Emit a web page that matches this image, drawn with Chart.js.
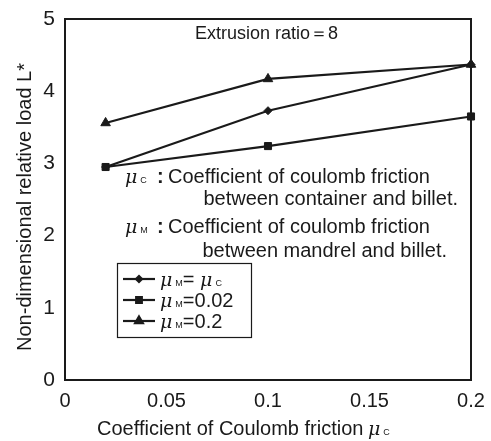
<!DOCTYPE html>
<html><head><meta charset="utf-8">
<script src="https://cdn.jsdelivr.net/npm/chart.js@4/dist/chart.umd.min.js"></script>
<style>html,body{margin:0;padding:0;background:#fff}#wrap{width:491px;height:441px}</style>
</head><body><div id="wrap"><canvas id="c" width="491" height="441"></canvas></div>
<script>
const xValues = [0.02, 0.1, 0.2];
const seriesEqual = [2.95, 3.73, 4.37];
const series002 = [2.95, 3.24, 3.65];
const series02 = [3.56, 4.17, 4.37];
const seriesNames = ['μM= μc', 'μM=0.02', 'μM=0.2'];
const xTicks = [0, 0.05, 0.1, 0.15, 0.2];
const yTicks = [0, 1, 2, 3, 4, 5];
const xTitle = 'Coefficient of Coulomb friction';
const yTitle = 'Non-dimensional relative load L*';
const FONT = '"Liberation Sans", Arial, sans-serif';
const INK = '#1a1a1a';

function pts(vals){ return xValues.map((x,i)=>({x, y: vals[i]})); }
const styles = ['rectRot','rect','triangle'];
const radii = [4,5,5.5];

// draw μ with subscript
function drawMu(ctx, x, y, sub, size){
  ctx.font = 'italic ' + size + 'px "DejaVu Serif", serif';
  ctx.fillText('μ', x, y);
  const w = ctx.measureText('μ').width;
  ctx.font = Math.round(size*0.45) + 'px ' + FONT;
  ctx.fillText(sub, x + w + 3, y);
  return w + 3 + ctx.measureText(sub).width;
}

const annot = {
  id: 'annot',
  afterDraw(chart){
    const ctx = chart.ctx, a = chart.chartArea;
    ctx.save();
    ctx.fillStyle = INK; ctx.textBaseline = 'alphabetic'; ctx.textAlign = 'left';
    // frame
    ctx.strokeStyle = INK; ctx.lineWidth = 2;
    ctx.strokeRect(a.left, a.top, a.right - a.left, a.bottom - a.top);
    ctx.font = '18px ' + FONT;
    ctx.fillText('Extrusion ratio＝8', 195, 39);
    // definitions
    [[183, 'C', 205, 'between container and billet.', 458],
     [233, 'M', 257, 'between mandrel and billet.', 447]].forEach(r => {
      ctx.textAlign = 'left';
      drawMu(ctx, 125, r[0], r[1], 19);
      ctx.font = 'bold 20px ' + FONT;
      ctx.fillText(':', 157, r[0]);
      ctx.font = '20px ' + FONT;
      ctx.fillText('Coefficient of coulomb friction', 168, r[0]);
      ctx.textAlign = 'right';
      ctx.fillText(r[3], r[4], r[2]);
    });
    // x axis title
    ctx.textAlign = 'left';
    ctx.font = '20px ' + FONT;
    ctx.fillText(xTitle, 97, 435);
    drawMu(ctx, 368, 435, 'C', 19);
    // y axis title
    ctx.save();
    ctx.translate(31, 207);
    ctx.rotate(-Math.PI / 2);
    ctx.textAlign = 'center';
    ctx.font = '20px ' + FONT;
    ctx.fillText(yTitle, 0, 0);
    ctx.restore();
    // legend
    ctx.lineWidth = 1.2;
    ctx.strokeRect(117.5, 263.5, 134, 74);
    const rows = [279, 300, 321];
    const subs = [['M','= ','C'],['M','=0.02'],['M','=0.2']];
    rows.forEach((ry, i) => {
      ctx.strokeStyle = INK; ctx.lineWidth = 2.2;
      ctx.beginPath(); ctx.moveTo(123, ry); ctx.lineTo(155, ry); ctx.stroke();
      Chart.helpers.drawPoint(ctx, {pointStyle: styles[i], radius: radii[i] - 1, borderWidth: 1}, 139, ry);
      ctx.fillStyle = INK;
      let tx = 160, by = ry + 7;
      tx += drawMu(ctx, tx, by, subs[i][0], 19);
      ctx.font = '20px ' + FONT;
      ctx.fillText(subs[i][1], tx, by);
      tx += ctx.measureText(subs[i][1]).width;
      if (subs[i][2]) drawMu(ctx, tx, by, subs[i][2], 19);
    });
    ctx.restore();
  }
};

new Chart(document.getElementById('c'), {
  type: 'scatter',
  data: {
    datasets: [seriesEqual, series002, series02].map((v, i) => ({
      label: seriesNames[i],
      data: pts(v),
      showLine: true,
      borderColor: INK,
      backgroundColor: INK,
      borderWidth: 2.2,
      pointStyle: styles[i],
      pointRadius: radii[i],
      pointHoverRadius: radii[i],
      pointBorderWidth: 1,
      tension: 0,
      clip: false
    }))
  },
  options: {
    responsive: false,
    animation: false,
    devicePixelRatio: 1,
    layout: { padding: { top: 19, right: 20, left: 0, bottom: 0 } },
    plugins: { legend: { display: false }, tooltip: { enabled: false } },
    scales: {
      x: {
        type: 'linear', min: 0, max: 0.2,
        afterBuildTicks: s => { s.ticks = xTicks.map(v => ({value: v})); },
        afterFit: s => { s.height = 61; },
        border: { display: true, color: INK, width: 2 },
        grid: { display: false, drawOnChartArea: false, drawTicks: true, tickLength: 7, tickWidth: 2, tickColor: INK },
        ticks: { color: INK, font: { family: FONT, size: 20 }, padding: 2, maxRotation: 0,
          callback: v => String(v) },
        title: { display: false }
      },
      y: {
        type: 'linear', min: 0, max: 5,
        afterBuildTicks: s => { s.ticks = yTicks.map(v => ({value: v})); },
        afterFit: s => { s.width = 65; },
        border: { display: true, color: INK, width: 2 },
        grid: { display: false, drawOnChartArea: false, drawTicks: true, tickLength: 7, tickWidth: 2, tickColor: INK },
        ticks: { color: INK, font: { family: FONT, size: 21 }, padding: 3 },
        title: { display: false }
      }
    }
  },
  plugins: [annot]
});
</script>
</body></html>
